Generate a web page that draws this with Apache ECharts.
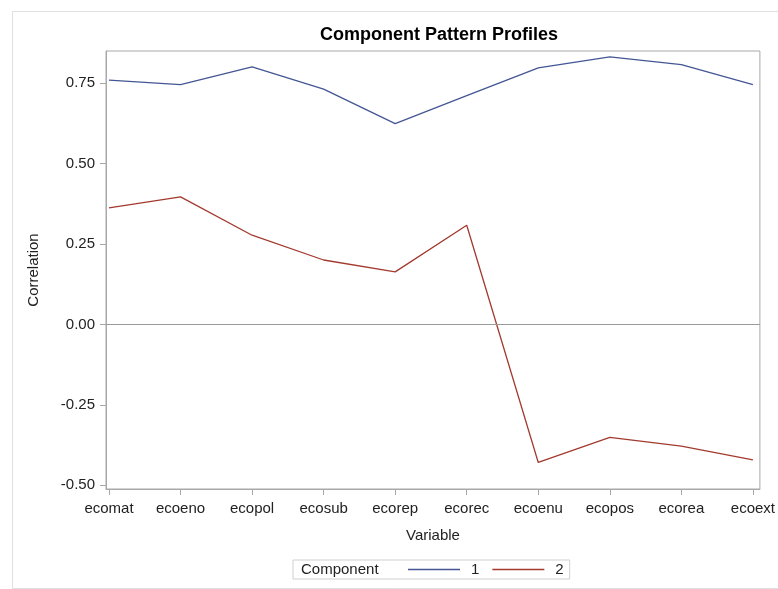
<!DOCTYPE html>
<html>
<head>
<meta charset="utf-8">
<script src="https://cdn.jsdelivr.net/npm/echarts@6/dist/echarts.min.js"></script>
<style>html,body{margin:0;padding:0;background:#fff;}#c{width:778px;height:589px;}</style>
</head>
<body>
<div id="c"></div>
<script>
const categories = ['ecomat','ecoeno','ecopol','ecosub','ecorep','ecorec','ecoenu','ecopos','ecorea','ecoext'];
const comp1 = [0.759, 0.745, 0.800, 0.731, 0.624, 0.711, 0.797, 0.831, 0.807, 0.745];
const comp2 = [0.362, 0.396, 0.277, 0.200, 0.163, 0.308, -0.429, -0.351, -0.378, -0.421];
const yTicks = [-0.5, -0.25, 0, 0.25, 0.5, 0.75];
const xTicks = categories.map((c, i) => i);

const FONT = '"Liberation Sans", Arial, sans-serif';
const chart = echarts.init(document.getElementById('c'), null, {renderer: 'canvas'});
const toPairs = arr => arr.map((v, i) => [i, v]);

chart.setOption({
  animation: false,
  backgroundColor: '#fff',
  textStyle: {fontFamily: FONT},
  title: {
    text: 'Component Pattern Profiles',
    left: 434, top: 21, textAlign: 'center',
    textStyle: {fontFamily: FONT, fontSize: 18, fontWeight: 'bold', color: '#000'}
  },
  grid: {
    left: 106, right: 17, top: 51, bottom: 100,
    show: true, borderColor: '#a8a8a8', borderWidth: 1, backgroundColor: 'transparent'
  },
  xAxis: {
    type: 'value',
    min: -0.0419, max: 9.0977,
    name: 'Variable', nameLocation: 'middle', nameGap: 39,
    nameTextStyle: {fontFamily: FONT, fontSize: 15, color: '#222'},
    axisLine: {show: true, onZero: false, lineStyle: {color: '#a8a8a8'}},
    axisTick: {show: true, length: 6, lineStyle: {color: '#a8a8a8'}, customValues: xTicks},
    axisLabel: {
      customValues: xTicks, margin: 12,
      fontFamily: FONT, fontSize: 15, color: '#222',
      formatter: v => categories[Math.round(v)]
    },
    splitLine: {show: false}
  },
  yAxis: {
    type: 'value',
    min: -0.5115, max: 0.8494,
    name: 'Correlation', nameLocation: 'middle', nameGap: 65,
    nameTextStyle: {fontFamily: FONT, fontSize: 15, color: '#222'},
    axisLine: {show: true, onZero: false, lineStyle: {color: '#a8a8a8'}},
    axisTick: {show: true, length: 6, lineStyle: {color: '#a8a8a8'}, customValues: yTicks},
    axisLabel: {
      customValues: yTicks, margin: 11,
      fontFamily: FONT, fontSize: 15, color: '#222',
      formatter: v => v.toFixed(2)
    },
    splitLine: {show: false}
  },
  legend: {
    left: 293, top: 560,
    padding: [2, 6, 2, 115],
    borderColor: '#cfcfcf', borderWidth: 1,
    itemWidth: 52, itemHeight: 1.5, itemGap: 13,
    icon: 'rect',
    textStyle: {fontFamily: FONT, fontSize: 15, color: '#222', padding: [0, 0, 0, 6]},
    data: ['1', '2']
  },
  graphic: [
    {type: 'rect', left: 10, top: 9, silent: true,
     shape: {width: 800, height: 577},
     style: {fill: 'none', stroke: '#e0e0e0', lineWidth: 1}},
    {type: 'text', left: 301, top: 562, silent: true,
     style: {text: 'Component', font: '15px ' + FONT, fill: '#222'}}
  ],
  series: [
    {
      name: '1', type: 'line', data: toPairs(comp1), symbol: 'none',
      color: '#445694', lineStyle: {color: '#445694', width: 1.3},
      markLine: {
        silent: true, symbol: 'none', label: {show: false},
        lineStyle: {color: '#9a9a9a', width: 1, type: 'solid'},
        data: [{yAxis: 0}]
      },
      z: 3
    },
    {
      name: '2', type: 'line', data: toPairs(comp2), symbol: 'none',
      color: '#A23A2E', lineStyle: {color: '#A23A2E', width: 1.3},
      z: 3
    }
  ]
});
</script>
</body>
</html>
